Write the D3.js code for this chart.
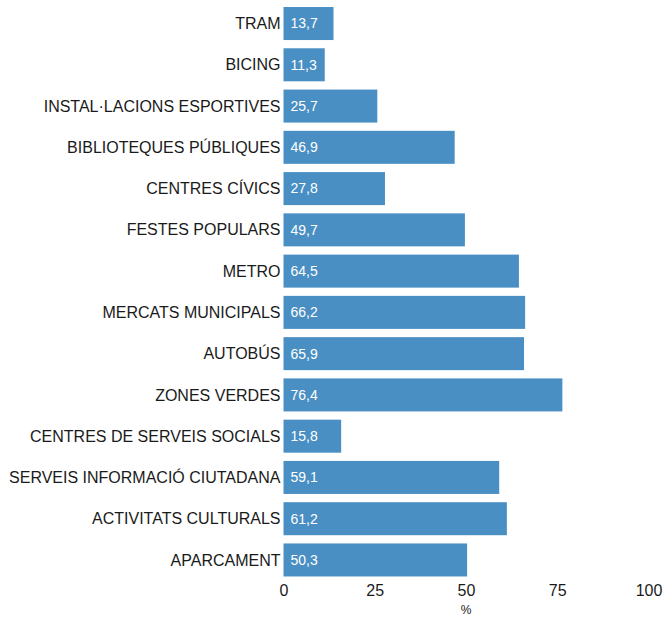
<!DOCTYPE html>
<html><head><meta charset="utf-8">
<script src="https://cdn.jsdelivr.net/npm/d3@7"></script>
<style>body{margin:0;background:#fff}svg{display:block;font-family:"Liberation Sans",Arial,sans-serif}</style>
</head><body><svg id="c" width="664" height="617"></svg>
<script>
const categories = ["TRAM","BICING","INSTAL·LACIONS ESPORTIVES","BIBLIOTEQUES PÚBLIQUES","CENTRES CÍVICS","FESTES POPULARS","METRO","MERCATS MUNICIPALS","AUTOBÚS","ZONES VERDES","CENTRES DE SERVEIS SOCIALS","SERVEIS INFORMACIÓ CIUTADANA","ACTIVITATS CULTURALS","APARCAMENT"];
const values = [13.7,11.3,25.7,46.9,27.8,49.7,64.5,66.2,65.9,76.4,15.8,59.1,61.2,50.3];
const xTicks = [0,25,50,75,100];
const axisTitle = "%";

const svg = d3.select("#c");
const x = d3.scaleLinear().domain([0,100]).range([283.5,648.5]);
const y = d3.scaleBand().domain(categories).range([2.9,580.6]).paddingInner(0.2).paddingOuter(0.1);
const fmt = v => d3.format(".1f")(v).replace(".", ",");

svg.append("g").selectAll("rect").data(values).join("rect")
  .attr("x", x(0)).attr("y", (d,i)=>y(categories[i]))
  .attr("width", d=>x(d)-x(0)).attr("height", y.bandwidth())
  .attr("fill", "#4a8fc3");

svg.append("g").selectAll("text").data(values).join("text")
  .attr("x", x(0)+7).attr("y", (d,i)=>y(categories[i])+y.bandwidth()/2)
  .attr("dy","0.35em").attr("fill","#fff").attr("font-size",14)
  .text(d=>fmt(d));

svg.append("g").selectAll("text").data(categories).join("text")
  .attr("x", x(0)-3).attr("y", d=>y(d)+y.bandwidth()/2)
  .attr("dy","0.35em").attr("text-anchor","end").attr("fill","#1a1a1a").attr("font-size",16)
  .text(d=>d);

const ax = d3.axisBottom(x).tickValues(xTicks).tickSize(0).tickPadding(0).tickFormat(d=>d);
const g = svg.append("g").attr("transform","translate(0,585)").call(ax);
g.select(".domain").remove();
g.selectAll("text").attr("font-size",16).attr("fill","#1a1a1a").attr("font-family","Liberation Sans, Arial, sans-serif").attr("dy","0.71em").attr("y",0);

svg.append("text").attr("x", x(50)).attr("y", 614).attr("text-anchor","middle")
  .attr("font-size",12).attr("fill","#1a1a1a").text(axisTitle);
</script></body></html>
